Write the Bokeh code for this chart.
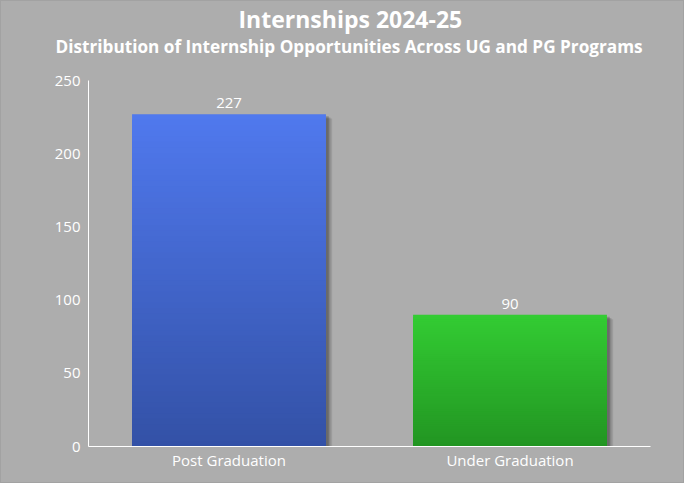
import numpy as np
from bokeh.plotting import figure
from bokeh.models import ColumnDataSource, LabelSet, Title, FactorRange, FixedTicker
from bokeh.core.properties import value
from bokeh.transform import dodge
from bokeh.embed import file_html
from bokeh.resources import INLINE

# ---- data ----
categories = ["Post Graduation", "Under Graduation"]
counts = [227, 90]
y_ticks = [0, 50, 100, 150, 200, 250]
title_text = "Internships 2024-25"
subtitle_text = "Distribution of Internship Opportunities Across UG and PG Programs"

# ---- style ----
top_colors = ["#5079ee", "#33cc33"]
bottom_colors = ["#3351a6", "#229522"]
FONT = "Open Sans"
BG = "#adadad"
BAR_W = 0.69
FW, FH = 562, 366


def hex2rgb(h):
    h = h.lstrip("#")
    return np.array([int(h[i:i + 2], 16) for i in (0, 2, 4)], dtype=float)


def mix(c0, c1, f):
    a, b = hex2rgb(c0), hex2rgb(c1)
    c = np.round(a + (b - a) * f).astype(int)
    return "#%02x%02x%02x" % tuple(c)


p = figure(
    x_range=FactorRange(*categories), y_range=(0, 250),
    frame_width=FW, frame_height=FH,
    min_border_left=88, min_border_right=34, min_border_bottom=37, min_border_top=0,
    output_backend="svg", toolbar_location=None, title=None,
)
p.background_fill_color = None
p.border_fill_color = None
p.styles = {"background-color": BG, "box-shadow": "inset 0 0 0 1px #a2a2a2"}
p.outline_line_color = None
p.xgrid.grid_line_color = None
p.ygrid.grid_line_color = None

# title panels, innermost first: spacer, subtitle, main title
spacer = Title(text=" ", text_font_size="1px", standoff=21)
p.add_layout(spacer, "above")
sub = Title(text=subtitle_text, align="left", vertical_align="top", text_font_size="17.2px",
            text_color="white", text_font=FONT, text_font_style="bold", standoff=-7, offset=-33)
p.add_layout(sub, "above")
main = Title(text=title_text, align="left", vertical_align="top", text_font_size="23px",
             text_color="white", text_font=FONT, text_font_style="bold", standoff=4, offset=150)
p.add_layout(main, "above")

# shadows
src = ColumnDataSource(dict(x=categories, v=counts, lbl=[str(c) for c in counts]))
for off, dy, a in [(0.022, 3.0, 0.10), (0.016, 2.2, 0.14), (0.010, 1.4, 0.20)]:
    sh = ColumnDataSource(dict(x=categories, top=[c - dy for c in counts]))
    p.vbar(x=dodge("x", off, range=p.x_range), top="top", bottom=0, width=BAR_W,
           source=sh, fill_color="black", fill_alpha=a, line_color=None)

# gradient bars (tallest strip first, each shorter one painted over it)
n = 60
gx, gtop, gcol = [], [], []
for cat, v, tc, bc in zip(categories, counts, top_colors, bottom_colors):
    for k in range(n, 0, -1):
        gx.append(cat)
        gtop.append(v * k / n)
        gcol.append(mix(bc, tc, (k - 0.5) / n))
grad = ColumnDataSource(dict(x=gx, top=gtop, color=gcol))
p.vbar(x="x", top="top", bottom=0, width=BAR_W, source=grad,
       fill_color="color", line_color=None)

# value labels
labels = LabelSet(x="x", y="v", text="lbl", source=src, text_align="center",
                  text_baseline="bottom", y_offset=6, text_color="white",
                  text_font=value(FONT), text_font_size="15px")
p.add_layout(labels)

# axes
for ax in (p.xaxis, p.yaxis):
    ax.axis_line_color = "white"
    ax.axis_line_width = 1
    ax.major_tick_line_color = None
    ax.minor_tick_line_color = None
    ax.major_tick_in = 0
    ax.major_tick_out = 0
    ax.major_label_text_color = "white"
    ax.major_label_text_font = FONT
    ax.major_label_text_font_size = "15px"
p.yaxis.ticker = FixedTicker(ticks=y_ticks)
p.yaxis.major_label_standoff = 8
p.xaxis.major_label_standoff = 3

open("out.html", "w").write(file_html(p, INLINE))
